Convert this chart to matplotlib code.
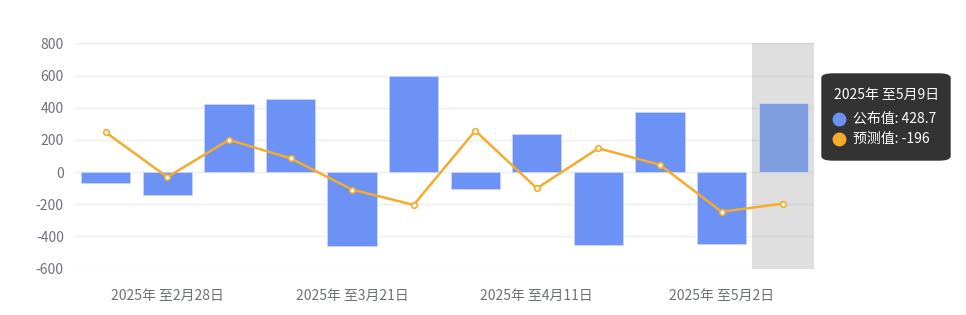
import matplotlib
matplotlib.use("Agg")
import matplotlib.pyplot as plt
from matplotlib.patches import FancyBboxPatch
from matplotlib.lines import Line2D

plt.rcParams['font.family'] = ['Noto Sans CJK SC', 'DejaVu Sans']

weeks = ["2025年 至2月21日", "2025年 至2月28日", "2025年 至3月7日", "2025年 至3月14日",
         "2025年 至3月21日", "2025年 至3月28日", "2025年 至4月4日", "2025年 至4月11日",
         "2025年 至4月18日", "2025年 至4月25日", "2025年 至5月2日", "2025年 至5月9日"]
actual = [-66, -144, 422, 455, -457, 598, -105, 237, -455, 373, -447, 428.7]
forecast = [247, -31, 200, 86, -109, -204, 257, -101, 148, 45, -247, -196]
series_names = ["公布值", "预测值"]
y_ticks = [-600, -400, -200, 0, 200, 400, 600, 800]
highlight = 11

bar_color = "#6b92f4"
bar_hl_color = "#7f9ee0"
line_color = "#f5ac2c"
text_gray = "#6e7079"
grid_color = "#eeeeee"

fig = plt.figure(figsize=(9.66, 3.15), dpi=100)
ax = fig.add_axes([0.0776, 0.1476, 0.765, 0.7144])

x = list(range(len(weeks)))

# hover shadow over the highlighted week
ax.axvspan(highlight - 0.5, highlight + 0.5, color=(150 / 255, 150 / 255, 150 / 255),
           alpha=0.3, zorder=1.5, lw=0)

colors = [bar_hl_color if i == highlight else bar_color for i in x]
ax.bar(x, actual, width=0.8, color=colors, edgecolor="#c9d6fb", linewidth=0.6, zorder=2)

ax.plot(x, forecast, color=line_color, lw=1.8, zorder=3)
ax.plot(x, forecast, ls="none", marker="o", ms=4, mfc="white", mec=line_color,
        mew=1.2, zorder=4)

ax.set_xlim(-0.5, len(weeks) - 0.5)
ax.set_ylim(-600, 800)
ax.set_yticks(y_ticks)
ax.set_yticklabels([str(v) for v in y_ticks])
ax.yaxis.grid(True, color=grid_color, lw=1, zorder=1)
ax.set_axisbelow(True)

label_idx = [1, 4, 7, 10]
ax.set_xticks(label_idx)
ax.set_xticklabels([weeks[i] for i in label_idx])

ax.tick_params(axis="both", length=0, colors=text_gray, labelsize=10)
ax.tick_params(axis="y", pad=8)
ax.tick_params(axis="x", pad=15)
for s in ax.spines.values():
    s.set_visible(False)

# tooltip box
tip_x0, tip_y0, tip_w, tip_h = 822 / 966, 1 - 160 / 315, 128 / 966, 86 / 315
box = FancyBboxPatch((tip_x0, tip_y0), tip_w, tip_h,
                     boxstyle="round,pad=0,rounding_size=0.012",
                     transform=fig.transFigure, facecolor="#333333",
                     edgecolor="#333333", zorder=10)
fig.patches.append(box)
tx = tip_x0 + 12 / 966
fig.text(tx, 1 - 95 / 315, weeks[highlight], color="white", fontsize=10,
         va="center", ha="left", zorder=11)
for row, (name, val, c) in enumerate([(series_names[0], actual[highlight], bar_color),
                                      (series_names[1], forecast[highlight], line_color)]):
    yy = 1 - (119 + row * 20) / 315
    fig.add_artist(Line2D([tx + 5 / 966], [yy], marker="o", ms=9, color=c,
                          transform=fig.transFigure, zorder=11))
    fig.text(tx + 19 / 966, yy, f"{name}: {val:g}", color="white", fontsize=10,
             va="center", ha="left", zorder=11)

fig.savefig("out.png", dpi=100)
